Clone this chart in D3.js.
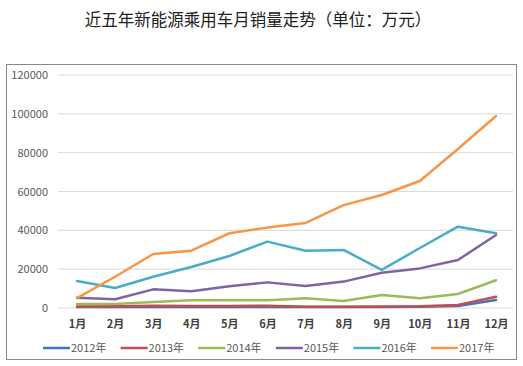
<!DOCTYPE html>
<html><head><meta charset="utf-8">
<script src="https://cdn.jsdelivr.net/npm/d3@7"></script>
<style>body{margin:0;background:#fff;}svg{display:block;}</style>
</head><body>
<svg id="c" width="523" height="366"></svg>
<script>
const months = ["1月","2月","3月","4月","5月","6月","7月","8月","9月","10月","11月","12月"];
const yTicks = [0,20000,40000,60000,80000,100000,120000];
const seriesNames = ["2012年","2013年","2014年","2015年","2016年","2017年"];
const s2012 = [500,500,500,500,500,500,500,500,500,600,1000,4100];
const s2013 = [800,900,1100,1000,1000,1200,700,700,800,900,1500,5800];
const s2014 = [2000,2100,3100,4000,4000,4000,5000,3600,6700,5000,7200,14300];
const s2015 = [5300,4500,9600,8600,11200,13200,11300,13600,18200,20400,24700,37600];
const s2016 = [13900,10300,16100,21100,26800,34200,29500,29900,19600,30900,41900,38500];
const s2017 = [5100,16100,27800,29500,38500,41400,43800,53000,58200,65400,81900,98900];
const seriesData = [s2012,s2013,s2014,s2015,s2016,s2017];
const colors = ["#4472C4","#C0504D","#9BBB59","#8064A2","#4BACC6","#F79646"];

const svg = d3.select("#c");
const font = "'Noto Sans CJK SC','Noto Sans',sans-serif";

svg.append("text").attr("x",258).attr("y",26).attr("text-anchor","middle")
  .attr("font-family",font).attr("font-size",16.5).attr("fill","#222")
  .text("近五年新能源乘用车月销量走势（单位：万元）");

svg.append("rect").attr("x",6.5).attr("y",64.5).attr("width",510).attr("height",295)
  .attr("fill","none").attr("stroke","#898989").attr("stroke-width",1);

const x = d3.scalePoint().domain(months).range([77,496]);
const y = d3.scaleLinear().domain([0,120000]).range([308,75]);

const grid = svg.append("g");
grid.selectAll("line").data(yTicks).join("line")
  .attr("x1",58).attr("x2",513).attr("y1",d=>y(d)).attr("y2",d=>y(d))
  .attr("stroke","#d9d9d9").attr("stroke-width",1);

const yAxis = svg.append("g").attr("transform","translate(58,0)")
  .call(d3.axisLeft(y).tickValues(yTicks).tickSize(0).tickPadding(10).tickFormat(d3.format("d")));
yAxis.select(".domain").remove();
yAxis.selectAll("text").attr("font-family",font).attr("font-size",11).attr("fill","#595959");

const xAxis = svg.append("g").attr("transform","translate(0,308)")
  .call(d3.axisBottom(x).tickSize(0).tickPadding(12));
xAxis.select(".domain").remove();
xAxis.selectAll("text").attr("font-family",font).attr("font-size",11).attr("font-weight","bold").attr("fill","#404040");

const line = d3.line().x((d,i)=>x(months[i])).y(d=>y(d));
svg.append("g").selectAll("path").data(seriesData).join("path")
  .attr("d",line).attr("fill","none").attr("stroke",(d,i)=>colors[i])
  .attr("stroke-width",2.5).attr("stroke-linejoin","round").attr("stroke-linecap","round");

const leg = svg.append("g");
const lx = d3.scaleLinear().domain([0,5]).range([43,431]);
seriesNames.forEach((n,i)=>{
  const g = leg.append("g").attr("transform",`translate(${lx(i)},348)`);
  g.append("line").attr("x1",0).attr("x2",27).attr("y1",0).attr("y2",0)
    .attr("stroke",colors[i]).attr("stroke-width",2.5);
  g.append("text").attr("x",28).attr("y",4).attr("font-family",font).attr("font-size",11)
    .attr("fill","#595959").text(n);
});
</script>
</body></html>
